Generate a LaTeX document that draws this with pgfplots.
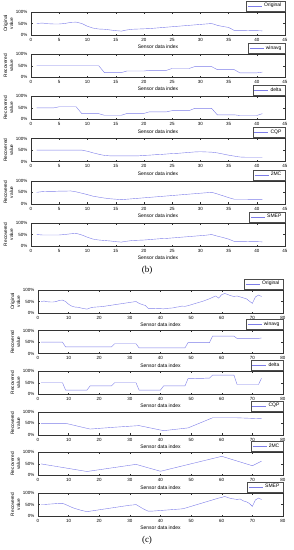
\documentclass[border=0pt]{standalone}
\usepackage{pgfplots}
\pgfplotsset{compat=1.18}
\usepackage{pgfplotstable}
\usepackage{fontspec}
\setmainfont{Liberation Sans}
\newfontfamily\seriffont{Liberation Serif}
\definecolor{lineblue}{RGB}{125,125,232}

\pgfplotstableread{
x orig win delta cqp mc smep
1 .50 .50 .50 .50 .50 .50
2 .52 .50 .50 .50 .53 .48
3 .49 .50 .50 .50 .54 .48
4 .48 .50 .50 .50 .54 .48
5 .48 .50 .55 .50 .55 .48
6 .50 .50 .55 .50 .55 .50
7 .55 .50 .55 .50 .56 .53
8 .56 .50 .55 .50 .52 .55
9 .50 .50 .25 .50 .46 .48
10 .38 .50 .25 .45 .40 .38
11 .30 .50 .25 .38 .33 .30
12 .26 .50 .25 .32 .29 .26
13 .25 .20 .18 .27 .25 .24
14 .22 .20 .18 .25 .22 .22
15 .19 .20 .18 .25 .20 .19
16 .17 .20 .18 .25 .18 .17
17 .22 .27 .26 .25 .20 .21
18 .25 .27 .26 .25 .22 .24
19 .26 .27 .26 .25 .24 .25
20 .27 .27 .26 .27 .26 .26
21 .28 .30 .33 .28 .28 .28
22 .30 .30 .33 .30 .30 .30
23 .32 .30 .33 .31 .32 .32
24 .34 .30 .33 .33 .34 .33
25 .36 .38 .38 .35 .36 .35
26 .38 .38 .38 .36 .38 .37
27 .40 .38 .38 .38 .40 .39
28 .42 .38 .38 .40 .42 .41
29 .44 .46 .48 .42 .44 .43
30 .46 .46 .48 .43 .46 .45
31 .48 .46 .48 .42 .48 .47
32 .50 .46 .48 .41 .50 .50
33 .42 .33 .20 .38 .43 .43
34 .37 .33 .20 .33 .35 .37
35 .33 .33 .20 .28 .27 .30
36 .20 .33 .20 .24 .20 .20
37 .20 .19 .17 .20 .20 .20
38 .20 .19 .17 .19 .20 .20
39 .19 .19 .17 .19 .19 .19
40 .19 .19 .17 .19 .19 .19
41 .18 .22 .25 .19 .19 .18
}\tb

\pgfplotstableread{
x orig win delta smep
1 .50 .50 .50 .50
2 .52 .50 .50 .50
3 .49 .50 .50 .51
4 .48 .50 .50 .52
5 .48 .50 .50 .53
6 .50 .50 .50 .54
7 .55 .50 .50 .55
8 .56 .50 .50 .55
9 .50 .29 .18 .50
10 .38 .29 .18 .44
11 .30 .29 .18 .38
12 .26 .29 .18 .33
13 .25 .29 .18 .29
14 .22 .29 .18 .25
15 .19 .29 .18 .22
16 .17 .29 .18 .19
17 .22 .29 .36 .21
18 .25 .29 .36 .23
19 .26 .29 .36 .25
20 .27 .29 .36 .27
21 .28 .29 .36 .29
22 .30 .29 .36 .31
23 .32 .29 .36 .33
24 .34 .29 .36 .35
25 .36 .43 .50 .37
26 .38 .43 .50 .39
27 .40 .43 .50 .41
28 .42 .43 .50 .43
29 .44 .43 .50 .45
30 .46 .43 .50 .47
31 .48 .43 .50 .48
32 .50 .43 .50 .50
33 .42 .25 .18 .42
34 .37 .25 .18 .34
35 .33 .25 .18 .27
36 .20 .25 .18 .21
37 .20 .25 .18 .21
38 .20 .25 .18 .22
39 .19 .25 .18 .23
40 .19 .25 .18 .24
41 .18 .25 .36 .25
42 .20 .25 .36 .26
43 .21 .25 .36 .27
44 .22 .25 .36 .28
45 .25 .25 .36 .29
46 .27 .25 .36 .30
47 .30 .25 .36 .31
48 .29 .25 .36 .34
49 .32 .48 .68 .38
50 .36 .48 .68 .42
51 .40 .48 .68 .46
52 .44 .48 .69 .50
53 .48 .48 .69 .54
54 .52 .48 .69 .58
55 .57 .48 .70 .62
56 .62 .48 .70 .66
57 .68 .76 .83 .70
58 .74 .76 .83 .74
59 .65 .76 .83 .78
60 .80 .76 .83 .81
61 .85 .76 .83 .85
62 .80 .76 .83 .80
63 .75 .76 .83 .76
64 .72 .76 .83 .74
65 .74 .66 .42 .72
66 .70 .66 .42 .74
67 .66 .66 .42 .66
68 .62 .66 .42 .62
69 .52 .66 .42 .55
70 .42 .66 .42 .42
71 .70 .66 .42 .70
72 .78 .66 .42 .78
73 .72 .68 .70 .72
}\tc

\pgfplotsset{
  base/.style={
    scale only axis, height=23pt,
    ymin=0, ymax=1, ytick={0,0.5,1}, yticklabels={0\%,50\%,100\%},
    tick align=inside, tick pos=both, major tick length=1.5pt,
    axis line style={line width=0.35pt, black!80},
    every tick/.style={line width=0.3pt, black!80},
    tick label style={font=\fontsize{4.5}{5}\selectfont},
    xticklabel style={yshift=0.3pt},
    /pgf/number format/assume math mode=true,
    xlabel={Sensor data index},
    xlabel style={font=\fontsize{5}{6}\selectfont, at={(axis description cs:0.5,0)}, anchor=center, yshift=-12pt, inner sep=0pt},
    ylabel style={font=\fontsize{4.8}{6}\selectfont, align=center, at={([xshift=-22.5pt]axis description cs:0,0.5)}, anchor=center, inner sep=0pt},
    legend cell align=left,
    legend style={at={(rel axis cs:1,1)}, anchor=south east, yshift=1pt, font=\fontsize{5}{6}\selectfont, inner xsep=1.5pt, inner ysep=0.5pt, line width=0.3pt, draw=black!70},
    legend image code/.code={\draw[#1] (0pt,0pt) -- (14pt,0pt);},
    cycle list={{lineblue, line width=0.55pt, mark=none}},
  },
  bax/.style={base, width=254pt, xmin=0, xmax=45, xtick={0,5,...,45}},
  cax/.style={base, width=245pt, xmin=0, xmax=80, xtick={0,10,...,80}},
}

\begin{document}
\begin{tikzpicture}
\useasboundingbox (0,0) rectangle (293pt,-550pt);

% ---------- panel (b) ----------
\begin{axis}[bax, at={(31pt,-35pt)}, anchor=south west, ylabel={Original\\value}]
\addplot table[x=x,y=orig] \tb; \addlegendentry{Original}
\end{axis}
\begin{axis}[bax, at={(31pt,-77.2pt)}, anchor=south west, ylabel={Recovered\\value}]
\addplot table[x=x,y=win] \tb; \addlegendentry{winavg}
\end{axis}
\begin{axis}[bax, at={(31pt,-119.4pt)}, anchor=south west, ylabel={Recovered\\value}]
\addplot table[x=x,y=delta] \tb; \addlegendentry{delta}
\end{axis}
\begin{axis}[bax, at={(31pt,-161.6pt)}, anchor=south west, ylabel={Recovered\\value}]
\addplot table[x=x,y=cqp] \tb; \addlegendentry{CQP}
\end{axis}
\begin{axis}[bax, at={(31pt,-203.8pt)}, anchor=south west, ylabel={Recovered\\value}]
\addplot table[x=x,y=mc] \tb; \addlegendentry{2MC}
\end{axis}
\begin{axis}[bax, at={(31pt,-246pt)}, anchor=south west, ylabel={Recovered\\value}]
\addplot table[x=x,y=smep] \tb; \addlegendentry{SMEP}
\end{axis}
\node[font=\seriffont\fontsize{9}{10}\selectfont] at (147pt,-270pt) {(b)};

% ---------- panel (c) ----------
\begin{axis}[cax, at={(38pt,-313pt)}, anchor=south west, ylabel={Original\\value}]
\addplot table[x=x,y=orig] \tc; \addlegendentry{Original}
\end{axis}
\begin{axis}[cax, at={(38pt,-353.6pt)}, anchor=south west, ylabel={Recovered\\value}]
\addplot table[x=x,y=win] \tc; \addlegendentry{winavg}
\end{axis}
\begin{axis}[cax, at={(38pt,-394.2pt)}, anchor=south west, ylabel={Recovered\\value}]
\addplot table[x=x,y=delta] \tc; \addlegendentry{delta}
\end{axis}
\begin{axis}[cax, at={(38pt,-434.8pt)}, anchor=south west, ylabel={Recovered\\value}]
\addplot coordinates {(1,.50) (9,.50) (17,.25) (25,.33) (33,.40) (41,.18) (49,.30) (57,.74) (65,.74) (73,.70)};
\addlegendentry{CQP}
\end{axis}
\begin{axis}[cax, at={(38pt,-475.4pt)}, anchor=south west, ylabel={Recovered\\value}]
\addplot coordinates {(1,.50) (16,.17) (32,.48) (40,.18) (60,.83) (70,.42) (73,.62)};
\addlegendentry{2MC}
\end{axis}
\begin{axis}[cax, at={(38pt,-516pt)}, anchor=south west, ylabel={Recovered\\value}]
\addplot table[x=x,y=smep] \tc; \addlegendentry{SMEP}
\end{axis}
\node[font=\seriffont\fontsize{9}{10}\selectfont] at (147pt,-540pt) {(c)};
\end{tikzpicture}
\end{document}
